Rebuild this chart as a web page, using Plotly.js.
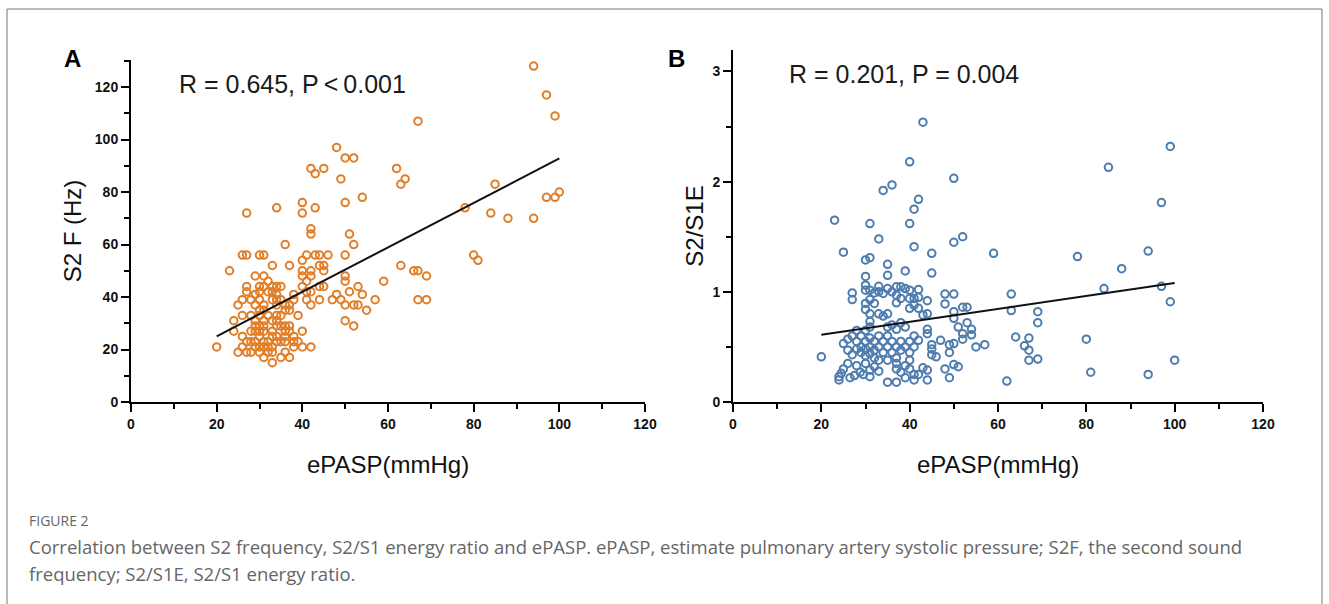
<!DOCTYPE html>
<html>
<head>
<meta charset="utf-8">
<script src="https://cdn.plot.ly/plotly-3.0.1.min.js"></script>
<style>html,body{margin:0;padding:0;background:#fff;}#chart{width:1329px;height:604px;}</style>
</head>
<body>
<div id="chart"></div>
<script>
// Panel A: ePASP vs S2 frequency (Hz)
var aX = [27,34,40,40,42,42,43,42,43,45,48,50,52,49,50,54,51,52,36,62,64,63,67,
  94,97,99,85,78,84,88,94,97,99,100,80,81,69,69,67,
  26,27,30,31,41,43,44,46,50,
  40,
  33,37,44,45,63,
  23,40,42,45,66,67,
  29,31,40,42,50,
  32,41,50,59,
  27,30,33,34,35,40,44,45,53,
  27,30,32,41,42,51,
  34,38,48,54,
  26,28,30,33,34,38,41,44,47,49,57,
  25,29,31,34,36,37,42,50,52,53,
  30,37,55,
  26,28,30,34,39,
  24,29,31,33,34,50,
  35,36,37,52,
  24,28,29,30,31,37,40,
  26,30,33,34,36,38,
  27,29,31,34,35,36,38,39,
  20,26,29,30,31,33,38,40,42,
  25,27,28,30,32,33,36,
  31,35,37,
  33,
  29,30,31,32,31,32,33,35,36,29,31,33,35,28,32,34,36];
var aY = [72,74,76,72,66,64,74,89,87,89,97,93,93,85,76,78,64,60,60,89,85,83,107,
  128,117,109,83,74,72,70,70,78,78,80,56,54,48,39,39,
  56,56,56,56,56,56,56,56,56,
  54,
  52,52,52,52,52,
  50,50,50,50,50,50,
  48,48,48,48,48,
  46,46,46,46,
  44,44,44,44,44,44,44,44,44,
  42,42,42,42,42,42,
  41,41,41,41,
  39,39,39,39,39,39,39,39,39,39,39,
  37,37,37,37,37,37,37,37,37,37,
  35,35,35,
  33,33,33,33,33,
  31,31,31,31,31,31,
  29,29,29,29,
  27,27,27,27,27,27,27,
  25,25,25,25,25,25,
  23,23,23,23,23,23,23,23,
  21,21,21,21,21,21,21,21,21,
  19,19,19,19,19,19,19,
  17,17,17,
  15,
  29,29,29,33,35,23,27,33,35,41,44,42,39,23,21,29,27];
var fitAX = [20, 100];
var fitAY = [25.0, 92.8];

// Panel B: ePASP vs S2/S1 energy ratio
var bX = [40,43,40,50,34,36,42,41,23,31,40,33,25,41,45,50,52,59,30,31,35,30,35,39,45,
  99,85,97,78,94,88,84,97,99,100,94,81,80,
  63,63,69,69,64,67,66,67,67,69,62,57,55,
  48,50,48,52,53,44,50,50,51,53,54,54,52,52,47,49,50,49,45,45,45,46,44,44,42,48,49,50,51,43,44,44,42,42,42,42,43,
  20,
  27,27,30,30,31,32,33,34,31,30,32,
  37,38,39,40,
  37,37,38,40,41,
  33,31,34,35,30,40,41,44,
  38,36,39,37,35,
  31,31,30,28,27,26,25,26,27,
  28,29,29,30,30,30,31,31,31,32,32,32,33,33,34,34,35,35,36,36,37,37,38,38,39,40,40,41,41,29,28,
  24,24.5,25,24,26.5,27.5,28.8,29.5,31,32,31,35,37,33,35,37,37,33,39,40,41,39,38,41,40,30,28,26,
  36,35,33];
var bY = [3.2,2.54,2.18,2.03,1.92,1.97,1.84,1.75,1.65,1.62,1.62,1.48,1.36,1.41,1.35,1.45,1.5,1.35,1.29,1.31,1.25,1.14,1.15,1.19,1.17,
  2.32,2.13,1.81,1.32,1.37,1.21,1.03,1.05,0.91,0.38,0.25,0.27,0.57,
  0.98,0.83,0.82,0.72,0.59,0.58,0.51,0.47,0.38,0.39,0.19,0.52,0.5,
  0.98,0.98,0.89,0.86,0.86,0.92,0.82,0.76,0.68,0.72,0.66,0.61,0.62,0.57,0.56,0.52,0.53,0.45,0.52,0.48,0.43,0.41,0.66,0.62,0.56,0.30,0.22,0.34,0.32,0.31,0.29,0.2,0.25,1.02,0.95,0.85,0.79,
  0.41,
  0.99,0.93,1.06,1.015,1.015,0.99,1.0,0.985,0.93,0.895,0.895,
  1.045,1.045,1.03,1.015,
  0.97,0.9,0.94,0.94,0.94,
  0.80,0.80,0.78,0.80,0.84,0.85,0.88,0.80,
  0.72,0.70,0.68,0.66,0.68,
  0.73,0.68,0.65,0.65,0.60,0.57,0.53,0.47,0.43,
  0.55,0.50,0.45,0.55,0.48,0.42,0.58,0.50,0.44,0.55,0.47,0.40,0.60,0.50,0.55,0.45,0.60,0.50,0.55,0.45,0.50,0.40,0.55,0.47,0.50,0.55,0.45,0.60,0.50,0.60,0.48,
  0.23,0.26,0.30,0.20,0.22,0.24,0.27,0.25,0.29,0.32,0.23,0.18,0.18,0.38,0.38,0.35,0.30,0.28,0.33,0.30,0.25,0.22,0.27,0.20,0.38,0.35,0.33,0.35,
  1.0,1.03,1.05];
var fitBX = [20, 100];
var fitBY = [0.61, 1.08];

var W = 1329, H = 604;
function px(x){ return x / W; }
function py(y){ return 1 - y / H; }

var orange = '#E17E28', blue = '#4E7CAE';
var tickFont = {family: 'Liberation Sans, Arial, sans-serif', size: 14, color: '#111', weight: 'bold'};
var titleFont = {family: 'Liberation Sans, Arial, sans-serif', size: 24, color: '#111'};

function axisCommon(extra) {
  var o = {
    showline: true, linewidth: 2, linecolor: '#000',
    ticks: 'outside', ticklen: 8, tickwidth: 2, tickcolor: '#000',
    showgrid: false, zeroline: false, tickfont: tickFont, fixedrange: true
  };
  for (var k in extra) o[k] = extra[k];
  return o;
}

var traces = [
  {x: aX, y: aY, xaxis: 'x', yaxis: 'y', type: 'scatter', mode: 'markers',
   marker: {symbol: 'circle-open', size: 7.5, color: orange, line: {width: 2, color: orange}}, cliponaxis: false},
  {x: fitAX, y: fitAY, xaxis: 'x', yaxis: 'y', type: 'scatter', mode: 'lines',
   line: {color: '#111', width: 2}},
  {x: bX, y: bY, xaxis: 'x2', yaxis: 'y2', type: 'scatter', mode: 'markers',
   marker: {symbol: 'circle-open', size: 7.5, color: blue, line: {width: 2, color: blue}}, cliponaxis: false},
  {x: fitBX, y: fitBY, xaxis: 'x2', yaxis: 'y2', type: 'scatter', mode: 'lines',
   line: {color: '#111', width: 2}}
];

function ann(text, x, y, font, xanchor) {
  return {text: text, xref: 'paper', yref: 'paper', x: px(x), y: py(y), showarrow: false,
    xanchor: xanchor || 'center', yanchor: 'middle', font: font};
}

var capFont = {family: 'Open Sans, sans-serif', size: 18.5, color: '#666'};
var statFont = {family: 'Liberation Sans, Arial', size: 25, color: '#1a1a1a'};

var layout = {
  width: W, height: H,
  margin: {l: 0, r: 0, t: 0, b: 0},
  paper_bgcolor: '#fff', plot_bgcolor: 'rgba(0,0,0,0)',
  showlegend: false,
  xaxis: axisCommon({domain: [px(131), px(645)], range: [0, 120], dtick: 20, anchor: 'y',
    minor: {dtick: 10, ticks: 'outside', ticklen: 5, tickwidth: 2, tickcolor: '#000'},
    title: {text: 'ePASP(mmHg)', font: titleFont, standoff: 25}}),
  yaxis: axisCommon({domain: [py(402), py(60)], range: [0, 130.3], dtick: 20, anchor: 'x',
    minor: {dtick: 10, ticks: 'outside', ticklen: 5, tickwidth: 2, tickcolor: '#000'},
    title: {text: 'S2 F (Hz)', font: titleFont, standoff: 6}}),
  xaxis2: axisCommon({domain: [px(733), px(1263)], range: [0, 120], dtick: 20, anchor: 'y2',
    minor: {dtick: 10, ticks: 'outside', ticklen: 5, tickwidth: 2, tickcolor: '#000'},
    title: {text: 'ePASP(mmHg)', font: titleFont, standoff: 25}}),
  yaxis2: axisCommon({domain: [py(402), py(50)], range: [0, 3.195], dtick: 1, anchor: 'x2',
    minor: {dtick: 0.5, ticks: 'outside', ticklen: 5, tickwidth: 2, tickcolor: '#000'},
    title: {text: 'S2/S1E', font: titleFont, standoff: 2}}),
  annotations: [
    ann('<b>A</b>', 72, 58, {family: 'Liberation Sans, Arial', size: 24, color: '#000'}),
    ann('<b>B</b>', 676, 58, {family: 'Liberation Sans, Arial', size: 24, color: '#000'}),
    ann('R = 0.645, P\u2009&lt;\u20090.001', 292, 84, statFont),
    ann('R = 0.201, P = 0.004', 904, 74, statFont),
    ann('FIGURE 2', 27, 520, {family: 'Open Sans, sans-serif', size: 14, color: '#666'}, 'left'),
    ann('Correlation between S2 frequency, S2/S1 energy ratio and ePASP. ePASP, estimate pulmonary artery systolic pressure; S2F, the second sound', 27, 546, capFont, 'left'),
    ann('frequency; S2/S1E, S2/S1 energy ratio.', 27, 573, capFont, 'left')
  ],
  shapes: [
    {type: 'rect', xref: 'paper', yref: 'paper', x0: px(7), x1: px(1322), y0: py(640), y1: py(9),
     line: {color: '#777', width: 1}, fillcolor: 'rgba(0,0,0,0)', layer: 'below'}
  ]
};

Plotly.newPlot('chart', traces, layout, {displayModeBar: false, staticPlot: true});
</script>
</body>
</html>
